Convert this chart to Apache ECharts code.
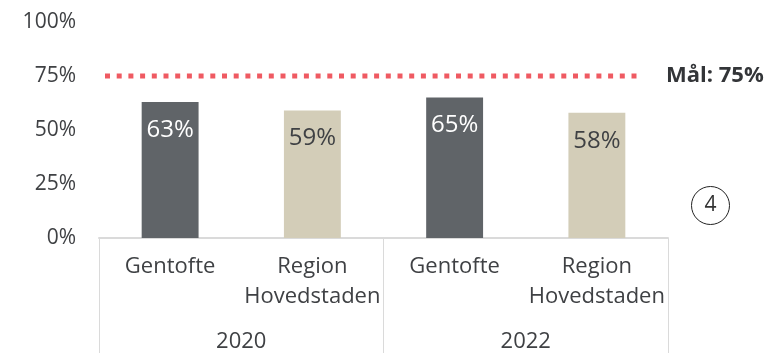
<!DOCTYPE html>
<html>
<head>
<meta charset="utf-8">
<style>
  html, body { margin: 0; padding: 0; background: #fff; }
  #chart { width: 770px; height: 353px; }
</style>
<script src="https://cdn.jsdelivr.net/npm/echarts@6/dist/echarts.min.js"></script>
</head>
<body>
<div id="chart"></div>
<script>
// Share of respondents, by area and survey year
const areas = ['Gentofte', 'Region\nHovedstaden', 'Gentofte', 'Region\nHovedstaden'];
const years = ['2020', '2022'];
const shares = [63, 59, 65, 58];
const goal = 75;
const yTicks = [0, 25, 50, 75, 100];

const FONT = '"Open Sans", "Liberation Sans", sans-serif';
const TEXT = '#3f4144';
const DARK = '#606468';
const BEIGE = '#d3cdb8';
const RULE = '#dadada';

const chart = echarts.init(document.getElementById('chart'));

chart.setOption({
  animation: false,
  grid: [
    { left: 99, right: 102, top: 22, bottom: 115 },
    // span of the target line
    { left: 105, right: 132, top: 22, bottom: 115 }
  ],
  xAxis: [
    {
      type: 'category', gridIndex: 0, data: areas,
      axisLine: { show: true, lineStyle: { color: RULE, width: 2 } },
      axisTick: { show: false },
      axisLabel: { margin: 14, fontFamily: FONT, fontSize: 22, lineHeight: 30, color: TEXT, interval: 0 }
    },
    {
      type: 'category', gridIndex: 0, data: years, position: 'bottom',
      axisLine: { show: false },
      axisTick: { show: true, length: 116, interval: 0, lineStyle: { color: RULE, width: 1 } },
      axisLabel: { margin: 93, fontFamily: FONT, fontSize: 22, color: TEXT }
    },
    {
      type: 'category', gridIndex: 1, data: ['a', 'b'], boundaryGap: false, show: false
    }
  ],
  yAxis: [
    {
      type: 'value', gridIndex: 0,
      min: yTicks[0], max: yTicks[yTicks.length - 1], interval: yTicks[1] - yTicks[0],
      splitLine: { show: false },
      axisLine: { show: false },
      axisTick: { show: false },
      axisLabel: { margin: 23, fontFamily: FONT, fontSize: 21, color: TEXT, formatter: '{value}%' }
    },
    {
      type: 'value', gridIndex: 1,
      min: yTicks[0], max: yTicks[yTicks.length - 1], show: false
    }
  ],
  series: [
    {
      type: 'bar', xAxisIndex: 0, yAxisIndex: 0,
      barWidth: '40%',
      data: shares.map((v, i) => ({
        value: v,
        itemStyle: { color: i % 2 === 0 ? DARK : BEIGE },
        label: { color: i % 2 === 0 ? '#ffffff' : TEXT }
      })),
      label: {
        show: true, position: 'insideTop', distance: 16,
        fontFamily: FONT, fontSize: 24,
        formatter: '{c}%'
      }
    },
    {
      type: 'line', xAxisIndex: 2, yAxisIndex: 1,
      data: [goal, goal],
      symbol: 'none',
      lineStyle: { color: '#ef5a62', width: 5, type: [5, 6.7], cap: 'butt' },
      endLabel: {
        show: true, distance: 28,
        fontFamily: FONT, fontSize: 22, fontWeight: 'bold', color: '#333538',
        formatter: () => 'Mål: ' + goal + '%'
      }
    }
  ],
  graphic: [
    {
      type: 'group', left: 689, top: 184,
      children: [
        { type: 'circle', shape: { cx: 20, cy: 20, r: 19 }, style: { fill: 'none', stroke: '#222', lineWidth: 1 } },
        { type: 'text', x: 20, y: 20, style: { text: '4', fontFamily: FONT, fontSize: 21, fill: '#333', align: 'center', verticalAlign: 'middle' } }
      ]
    }
  ]
});
</script>
</body>
</html>
